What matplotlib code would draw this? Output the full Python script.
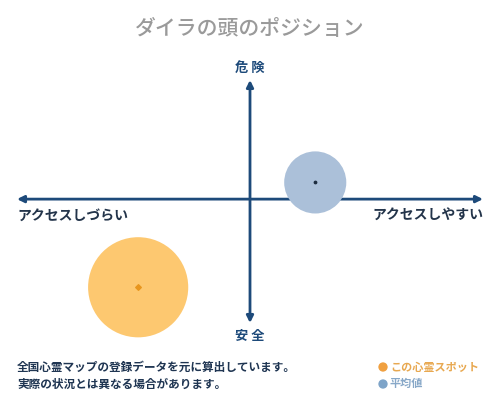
import numpy as np
import matplotlib
matplotlib.use('Agg')
from matplotlib import pyplot as plt

plt.rcParams['font.family'] = ['Noto Sans CJK JP', 'DejaVu Sans']

title = 'ダイラの頭のポジション'
top_label = '危 険'
bottom_label = '安 全'
left_label = 'アクセスしづらい'
right_label = 'アクセスしやすい'
note_lines = ['全国心霊マップの登録データを元に算出しています。',
              '実際の状況とは異なる場合があります。']
legend_labels = ['この心霊スポット', '平均値']

# positions: x = access (easy > 0), y = danger (dangerous > 0)
spot_x = [-0.48]
spot_y = [-0.74]
spot_size = [5200]
avg_x = [0.28]
avg_y = [0.14]
avg_size = [2000]

navy = '#1d4a7a'
orange = '#fdc870'
blue = '#abc0d9'

fig = plt.figure(figsize=(5, 4), dpi=100)

# background axes in pixel coords for the texts
bg = fig.add_axes([0, 0, 1, 1])
bg.set_xlim(0, 500)
bg.set_ylim(400, 0)
bg.axis('off')

ax = fig.add_axes([17 / 500, (400 - 323) / 400, 466 / 500, 243 / 400])
ax.set_xlim(-1, 1)
ax.set_ylim(-1.04, 1)
ax.axis('off')

ax.annotate('', xy=(1, 0), xytext=(-1, 0),
            arrowprops=dict(arrowstyle='<|-|>', color=navy, lw=2,
                            mutation_scale=10, shrinkA=0, shrinkB=0))
ax.annotate('', xy=(0, 1), xytext=(0, -1.04),
            arrowprops=dict(arrowstyle='<|-|>', color=navy, lw=2,
                            mutation_scale=10, shrinkA=0, shrinkB=0))

ax.scatter(avg_x, avg_y, s=avg_size, color=blue, edgecolors='none', zorder=3,
           clip_on=False)
ax.scatter(avg_x, avg_y, s=3, color='#1d2d40', zorder=4, clip_on=False)
ax.scatter(spot_x, spot_y, s=spot_size, color=orange, edgecolors='none',
           zorder=3, clip_on=False)
ax.scatter(spot_x, spot_y, s=8, color='#e8961e', marker='D', zorder=4,
           clip_on=False)

bg.text(250, 29, title, ha='center', va='center', fontsize=15,
        color='#9a9a9a', fontweight='medium')
bg.text(250, 68, top_label, ha='center', va='center', fontsize=9.5,
        color=navy, fontweight='bold')
bg.text(250, 336, bottom_label, ha='center', va='center', fontsize=9.5,
        color=navy, fontweight='bold')
bg.text(17, 216, left_label, ha='left', va='center', fontsize=10,
        color='#23344a', fontweight='bold')
bg.text(483, 216, right_label, ha='right', va='center', fontsize=10,
        color='#23344a', fontweight='bold')

for i, line in enumerate(note_lines):
    bg.text(17, 367 + i * 17, line, ha='left', va='center', fontsize=8.4,
            color='#1f3552', fontweight='bold')

legend_colors = ['#f0a040', '#7ea4c8']
text_colors = ['#e8a850', '#88a8c8']
for i, (lab, c, tc) in enumerate(zip(legend_labels, legend_colors, text_colors)):
    y = 367 + i * 17
    bg.scatter([383], [y], s=45, color=c, edgecolors='none')
    bg.text(390, y, lab, ha='left', va='center', fontsize=8, color=tc,
            fontweight='bold')

fig.savefig('out.png', dpi=100, facecolor='white')
